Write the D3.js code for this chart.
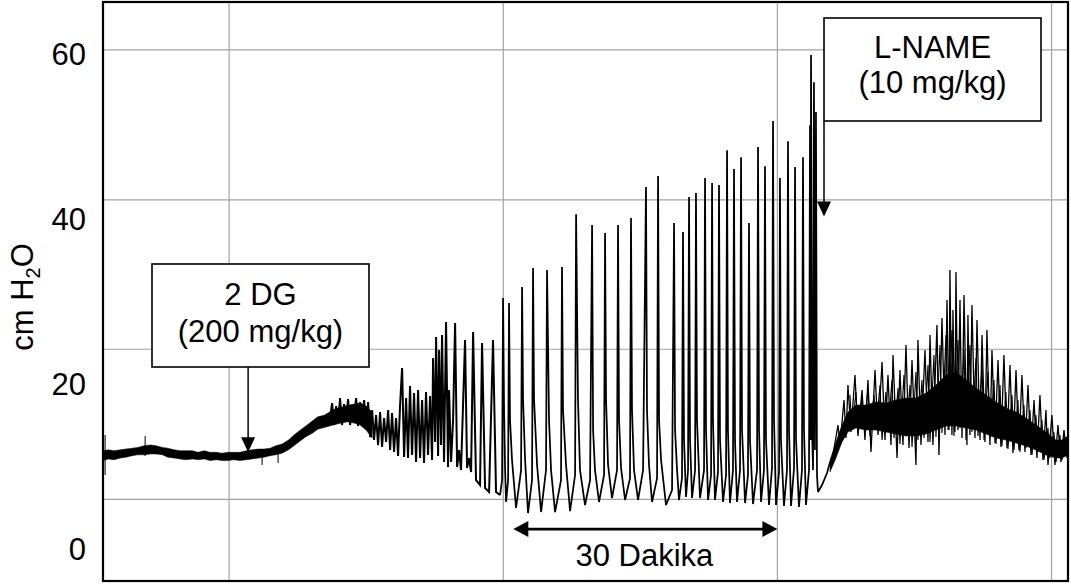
<!DOCTYPE html>
<html>
<head>
<meta charset="utf-8">
<script src="https://cdn.jsdelivr.net/npm/d3@7"></script>
<style>
  html, body { margin: 0; padding: 0; background: #fff; }
  svg { display: block; font-family: "Liberation Sans", Arial, Helvetica, sans-serif; }
</style>
</head>
<body>
<svg id="chart" width="1071" height="585"></svg>
<script>
// ---------------- data ----------------
// y axis labels (cm H2O)
const yTicks = [0, 20, 40, 60];
// recorder paper grid: time lines every 30 min, pressure lines of the paper
const gridT = [0, 30, 60, 90];
const gridV = [5.9, 24.1, 42.2, 60.4];

// resting baseline before/after 2-DG: min/max envelope of the noisy signal (time in min)
const baseT  = [-13.8,-13.2,-12.6,-11.9,-11.3,-10.6,-10.0,-9.3,-8.6,-8.0,-7.3,-6.7,-6.0,-5.4,-4.7,-4.0,-3.4,-2.7,-2.1,-1.4,-0.8,-0.1,0.5,1.2,1.9,2.5,3.2,3.8,4.5,5.1,5.8,6.5,7.1,7.8,8.4,9.1,9.7,10.4,11.0,11.7,12.4,13.0,13.68,14.33,14.99,15.65];
const baseLo = [10.6,10.8,10.7,10.9,11.0,11.2,11.3,11.3,11.4,11.4,11.3,11.0,10.9,10.8,10.7,10.8,10.7,10.8,10.6,10.7,10.6,10.6,10.7,10.6,10.7,10.8,10.9,11.0,11.2,11.3,11.5,11.9,12.4,13.0,13.5,13.9,14.4,14.6,14.8,15.0,15.2,15.3,15.15,14.91,14.30,13.33];
const baseHi = [11.8,11.9,11.8,11.9,12.0,12.1,12.2,12.4,12.5,12.4,12.2,12.1,11.9,11.8,11.8,11.8,11.6,11.8,11.6,11.6,11.5,11.6,11.6,11.6,11.8,11.9,12.0,12.0,12.1,12.4,12.6,13.1,13.7,14.3,14.8,15.4,15.9,16.1,16.5,16.9,17.1,17.3,17.45,17.58,17.21,16.48];
// isolated artefact blips on the baseline
const blipT  = [-13.57, -9.19, 3.61, 5.36];
const blipLo = [8.85, 11.15, 10.06, 10.30];
const blipHi = [13.70, 13.58, 11.64, 11.88];

// irregular contractions after 2-DG
const noiseT = [11.05,11.27,11.49,11.71,11.93,12.14,12.36,12.58,12.80,13.02,
  13.24,13.46,13.68,13.90,14.11,14.33,14.55,14.77,14.99,15.21,
  15.43,15.65,15.86,16.08,16.30,16.52,16.74,16.96,17.18,17.40,
  17.62,17.83,18.05,18.27,18.49,18.71,18.93,19.15,19.37,19.58,
  19.80,20.02,20.24,20.46,20.68,20.90,21.12,21.33,21.55,21.77,
  21.99,22.21,22.32,22.54,22.65,22.87,22.98,23.19,23.30,23.52,
  23.74,23.96,24.07,24.29,24.51,24.73,24.95,25.16,25.38,25.82,
  26.04,26.26,26.48,26.70,27.02,27.46,27.68,28.01,28.45,28.88,
  29.21,29.65];
const noiseV = [15.76,17.58,14.91,17.21,15.27,18.18,14.91,17.45,15.52,18.06,
  14.91,17.33,15.76,18.18,14.79,17.70,15.52,17.94,14.55,17.70,
  13.45,16.73,13.09,16.12,12.48,16.48,12.24,15.76,12.85,16.73,
  11.88,16.36,11.64,15.76,11.15,17.33,21.82,11.03,18.18,10.91,
  19.64,11.27,18.79,10.42,19.15,10.91,17.94,10.30,18.91,11.27,
  18.42,10.67,23.03,12.85,25.58,11.15,24.0,12.48,25.82,10.42,
  27.39,9.82,19.15,10.42,15.52,27.27,9.82,11.88,9.45,25.21,
  9.70,10.91,9.21,26.18,8.24,7.64,24.85,7.27,6.79,25.21,
  6.79,6.42];

// rhythmic phasic contractions (foot, peak, fall, trough per cycle)
const phasicT = [29.87,29.98,30.09,30.20,30.31,30.53,30.63,30.74,30.96,31.40,
  31.95,32.06,32.17,32.39,32.71,33.15,33.26,33.37,33.70,34.14,
  34.68,34.79,35.01,35.23,35.67,36.32,36.43,36.54,36.87,37.31,
  37.86,37.97,38.18,38.40,38.95,39.50,39.72,39.83,40.04,40.48,
  41.03,41.14,41.25,41.47,41.90,42.45,42.56,42.67,42.89,43.33,
  43.87,43.98,44.09,44.31,44.75,45.30,45.62,45.73,45.95,46.28,
  46.83,46.94,47.05,47.27,47.81,48.47,48.69,48.80,49.02,49.23,
  49.56,49.67,49.78,50.00,50.22,50.33,50.44,50.66,50.99,51.09,
  51.20,51.53,51.97,52.08,52.19,52.41,52.74,52.85,52.95,53.17,
  53.50,53.61,53.72,54.05,54.38,54.49,54.59,54.81,55.14,55.25,
  55.36,55.58,55.91,56.02,56.13,56.46,56.78,56.89,57.00,57.33,
  57.77,57.88,57.99,58.21,58.53,58.64,58.75,59.08,59.41,59.52,
  59.63,59.85,60.18,60.28,60.39,60.72,61.05,61.16,61.27,61.49,
  61.82,61.93,62.04,62.36,62.69,62.80,62.91,63.13,63.46,63.57,
  63.62,63.68,63.79,63.90,64.00,64.11,64.22,64.33,64.44,64.88,
  65.43,65.76];
const phasicV = [8.24,30.30,16.73,9.45,5.58,8.24,29.70,15.52,10.67,4.85,
  9.45,31.64,17.94,10.67,4.24,8.24,33.94,17.94,10.06,4.36,
  9.45,33.70,15.52,9.45,4.36,8.24,34.06,16.73,10.06,4.48,
  8.85,40.48,17.94,9.45,5.21,8.24,39.15,14.30,9.45,5.58,
  8.85,38.18,17.94,10.06,6.06,9.45,39.15,15.52,9.70,5.82,
  8.48,40.0,16.73,9.45,5.82,9.45,43.76,16.73,10.06,5.58,
  8.48,45.09,15.52,10.67,5.21,7.03,39.39,14.30,9.45,5.82,
  8.48,38.30,13.09,6.18,9.45,42.55,13.09,6.06,9.45,43.03,
  15.52,6.06,9.45,44.85,14.30,5.82,8.85,44.24,15.52,5.82,
  9.21,44.0,13.09,5.58,8.85,48.24,14.30,5.45,9.45,45.94,
  13.09,5.58,9.45,47.39,14.30,5.45,8.85,39.39,13.09,5.33,
  9.45,48.61,14.30,5.58,9.45,46.30,13.09,5.21,9.70,51.76,
  15.52,5.21,9.21,44.85,13.09,5.09,9.45,49.33,14.30,5.09,
  9.70,46.18,13.09,4.97,9.45,47.39,14.30,5.21,9.45,51.27,
  13.09,59.76,14.30,9.45,56.48,11.88,52.85,8.85,6.79,7.64,
  9.09,10.42];

// recovery after L-NAME: core envelope plus the larger and the smaller excursions
const recT  = [65.76,66.41,67.07,67.72,68.60,69.69,70.79,71.88,72.98,74.07,75.16,76.26,77.35,78.45,79.54,80.64,81.73,82.82,83.92,85.01,86.11,87.20,88.29,89.39,90.48,91.14,91.79];
const recLo = [9.21,10.91,12.85,14.06,14.55,14.30,14.30,14.06,13.82,13.58,13.58,13.82,14.30,14.79,14.79,14.55,14.30,13.82,13.33,13.09,12.73,12.36,11.88,11.27,10.91,10.91,11.27];
const recHi = [10.67,12.85,14.91,16.48,17.33,17.33,17.70,17.58,17.94,18.18,18.18,18.79,19.76,20.97,21.33,20.36,19.39,18.55,17.70,16.97,16.48,15.76,14.91,14.06,13.09,13.09,13.58];
const recSpikeT = [66.08,66.63,66.85,67.29,67.51,67.72,68.05,68.49,68.82,69.26,
  69.58,69.91,70.24,70.68,71.01,71.45,71.77,72.10,72.43,72.65,
  73.09,73.41,73.74,74.07,74.40,74.73,75.16,75.38,75.71,76.15,
  76.48,76.70,77.02,77.46,77.68,78.01,78.34,78.56,78.78,78.88,
  79.10,79.21,79.43,79.54,79.76,79.98,80.20,80.42,80.74,80.85,
  81.07,81.29,81.62,81.84,82.17,82.39,82.71,82.93,83.26,83.48,
  83.81,84.14,84.46,84.79,85.12,85.45,85.78,86.11,86.43,86.76,
  87.09,87.42,87.75,88.08,88.40,88.73,89.06,89.39,89.61,90.04,
  90.37,90.70,91.03,91.36,91.69];
const recSpikeV = [11.27,14.91,12.48,17.94,13.33,19.76,14.06,20.97,13.58,19.15,
  13.09,20.36,11.64,21.58,13.70,22.55,13.09,20.97,12.48,23.39,
  10.91,21.58,12.48,24.61,12.12,22.79,10.06,25.21,12.48,24.0,
  12.85,25.82,12.48,27.03,11.27,27.88,13.70,30.06,14.30,33.70,
  13.70,28.85,14.06,33.45,14.30,30.06,13.33,30.67,12.48,28.24,
  13.70,29.45,13.33,27.64,13.09,25.82,12.85,26.42,12.48,24.0,
  12.73,22.79,12.24,23.39,12.12,22.18,11.52,21.58,11.88,20.97,
  11.64,19.76,11.27,17.94,10.91,18.55,10.67,16.73,10.06,16.12,
  10.06,14.91,10.42,14.30,10.91];
const recFineT = [67.94,68.16,68.60,68.82,69.26,69.48,69.91,70.13,70.57,70.79,
  71.23,71.45,71.88,72.10,72.54,72.76,73.20,73.41,73.85,74.07,
  74.51,74.73,75.16,75.38,75.82,76.04,76.48,76.70,77.13,77.35,
  77.79,78.01,78.45,78.67,79.10,79.32,79.76,79.98,80.42,80.64,
  81.07,81.29,81.73,81.95,82.39,82.61,83.04,83.26,83.70,83.92,
  84.36,84.57,85.01,85.23,85.67,85.89,86.32,86.54,86.98,87.20,
  87.64,87.86,88.29,88.51,88.95,89.17,89.61,89.82,90.26,90.48,
  90.92,91.14,91.58,91.80];
const recFineV = [18.55,14.30,18.91,13.94,18.18,14.55,19.39,13.58,18.55,14.30,
  19.76,13.09,18.91,14.06,20.36,13.33,19.39,12.61,20.97,13.58,
  19.76,12.24,21.33,13.09,20.36,13.33,22.18,12.85,23.39,13.45,
  24.61,13.94,25.82,14.30,26.42,13.58,25.21,14.55,24.0,13.09,
  24.61,14.06,23.03,13.58,22.18,13.09,21.33,13.33,20.36,12.61,
  19.76,12.36,18.91,12.0,18.55,11.88,17.94,11.64,17.33,12.12,
  16.73,11.27,16.12,11.64,15.52,10.67,14.55,10.91,14.06,10.42,
  13.70,10.67,13.09,11.03];

// drug administration times (min) and the 30-min bracket
const dgTime = 2.08, dgLevel = 11.6;
const lnameTime = 65.1, lnameLevel = 40.2;
const spanStart = 31.1, spanEnd = 60.0, spanLevel = 2.3;

// ---------------- layout ----------------
const frame = { left: 103, right: 1068, top: 2, bottom: 581 };
const FONT = 31;

const x = d3.scaleLinear().domain([-13.8, 91.8]).range([frame.left, frame.right]);
const y = d3.scaleLinear().domain([-4, 66.2]).range([frame.bottom, frame.top]);

const svg = d3.select("#chart");
svg.append("rect").attr("width", 1071).attr("height", 585).attr("fill", "#fff");

svg.append("defs").append("clipPath").attr("id", "plot-clip")
  .append("rect")
  .attr("x", frame.left).attr("y", frame.top)
  .attr("width", frame.right - frame.left).attr("height", frame.bottom - frame.top);

// grid
const grid = svg.append("g").attr("stroke", "#a3a3a3").attr("stroke-width", 1.2);
grid.selectAll("line.v").data(gridT).join("line").attr("class", "v")
  .attr("x1", d => x(d)).attr("x2", d => x(d))
  .attr("y1", frame.top).attr("y2", frame.bottom);
grid.selectAll("line.h").data(gridV).join("line").attr("class", "h")
  .attr("x1", frame.left).attr("x2", frame.right)
  .attr("y1", d => y(d)).attr("y2", d => y(d));

// trace
const plot = svg.append("g").attr("clip-path", "url(#plot-clip)");

const zipBand = (t, lo, hi) => t.map((d, i) => ({ t: d, lo: lo[i], hi: hi[i] }));
const zipLine = (t, v) => t.map((d, i) => ({ t: d, v: v[i] }));
const band = d3.area().x(d => x(d.t)).y0(d => y(d.lo)).y1(d => y(d.hi));
const line = d3.line().defined(d => d.v != null && !isNaN(d.v)).x(d => x(d.t)).y(d => y(d.v));

plot.append("path").datum(zipBand(baseT, baseLo, baseHi))
  .attr("d", band).attr("fill", "#000").attr("stroke", "#000").attr("stroke-width", 0.5);
plot.append("path").datum(zipBand(recT, recLo, recHi))
  .attr("d", band).attr("fill", "#000").attr("stroke", "#000").attr("stroke-width", 0.5);

plot.selectAll("line.blip").data(zipBand(blipT, blipLo, blipHi)).join("line")
  .attr("class", "blip")
  .attr("x1", d => x(d.t)).attr("x2", d => x(d.t))
  .attr("y1", d => y(d.lo)).attr("y2", d => y(d.hi))
  .attr("stroke", "#000").attr("stroke-width", 1);

function drawTrace(t, v, w) {
  plot.append("path").datum(zipLine(t, v))
    .attr("d", line).attr("fill", "none").attr("stroke", "#000")
    .attr("stroke-width", w).attr("stroke-linejoin", "miter").attr("stroke-miterlimit", 3);
}
drawTrace(noiseT, noiseV, 2.0);
drawTrace([noiseT[noiseT.length - 1]].concat(phasicT), [noiseV[noiseV.length - 1]].concat(phasicV), 1.75);
drawTrace([phasicT[phasicT.length - 1]].concat(recSpikeT), [phasicV[phasicV.length - 1]].concat(recSpikeV), 1.3);
drawTrace(recFineT, recFineV, 1.1);

// frame
svg.append("rect")
  .attr("x", frame.left).attr("y", frame.top)
  .attr("width", frame.right - frame.left).attr("height", frame.bottom - frame.top)
  .attr("fill", "none").attr("stroke", "#000").attr("stroke-width", 2.2);

// y axis labels
const yAxis = svg.append("g").attr("transform", `translate(${frame.left},0)`)
  .call(d3.axisLeft(y).tickValues(yTicks).tickSize(0).tickPadding(17).tickFormat(d3.format("d")));
yAxis.select(".domain").remove();
yAxis.selectAll("text")
  .attr("font-size", FONT).attr("fill", "#000")
  .attr("font-family", "Liberation Sans, Arial, sans-serif")
  .attr("dy", "0.36em");

// y axis title: cm H2O
const yTitle = svg.append("text")
  .attr("transform", "translate(33,297) rotate(-90)")
  .attr("text-anchor", "middle").attr("font-size", FONT).attr("fill", "#000");
yTitle.append("tspan").text("cm H");
yTitle.append("tspan").attr("font-size", 20).attr("dy", 7).text("2");
yTitle.append("tspan").attr("dy", -7).text("O");

// annotation helpers
function arrowDown(g, px, y0, yTip) {
  g.append("line").attr("x1", px).attr("x2", px).attr("y1", y0).attr("y2", yTip - 10)
    .attr("stroke", "#000").attr("stroke-width", 1.5);
  g.append("path")
    .attr("d", `M${px - 7},${yTip - 15}L${px + 7},${yTip - 15}L${px},${yTip}Z`)
    .attr("fill", "#000");
}
function labelBox(g, cx, top, w, h, lines, baselines) {
  g.append("rect").attr("x", cx - w / 2).attr("y", top).attr("width", w).attr("height", h)
    .attr("fill", "#fff").attr("stroke", "#000").attr("stroke-width", 1.6);
  lines.forEach((s, i) => {
    g.append("text").attr("x", cx).attr("y", top + baselines[i])
      .attr("text-anchor", "middle").attr("font-size", FONT).attr("fill", "#000").text(s);
  });
}

const ann = svg.append("g");

// 2-DG injection
arrowDown(ann, x(dgTime), 367, y(dgLevel));
labelBox(ann, 260.5, 264, 217, 103, ["2 DG", "(200 mg/kg)"], [41, 78]);

// L-NAME injection (arrow runs down the box's left edge)
labelBox(ann, x(lnameTime) + 108.5, 18, 217, 103, ["L-NAME", "(10 mg/kg)"], [40, 75]);
arrowDown(ann, x(lnameTime), 121, y(lnameLevel));

// 30 min bracket
const ys = y(spanLevel), xa = x(spanStart), xb = x(spanEnd);
ann.append("line").attr("x1", xa + 10).attr("x2", xb - 10).attr("y1", ys).attr("y2", ys)
  .attr("stroke", "#000").attr("stroke-width", 2.8);
ann.append("path").attr("d", `M${xa},${ys}L${xa + 15},${ys - 8}L${xa + 15},${ys + 8}Z`).attr("fill", "#000");
ann.append("path").attr("d", `M${xb},${ys}L${xb - 15},${ys - 8}L${xb - 15},${ys + 8}Z`).attr("fill", "#000");
ann.append("text").attr("x", (xa + xb) / 2 - 1).attr("y", 566)
  .attr("text-anchor", "middle").attr("font-size", FONT).attr("fill", "#000").text("30 Dakika");
</script>
</body>
</html>
